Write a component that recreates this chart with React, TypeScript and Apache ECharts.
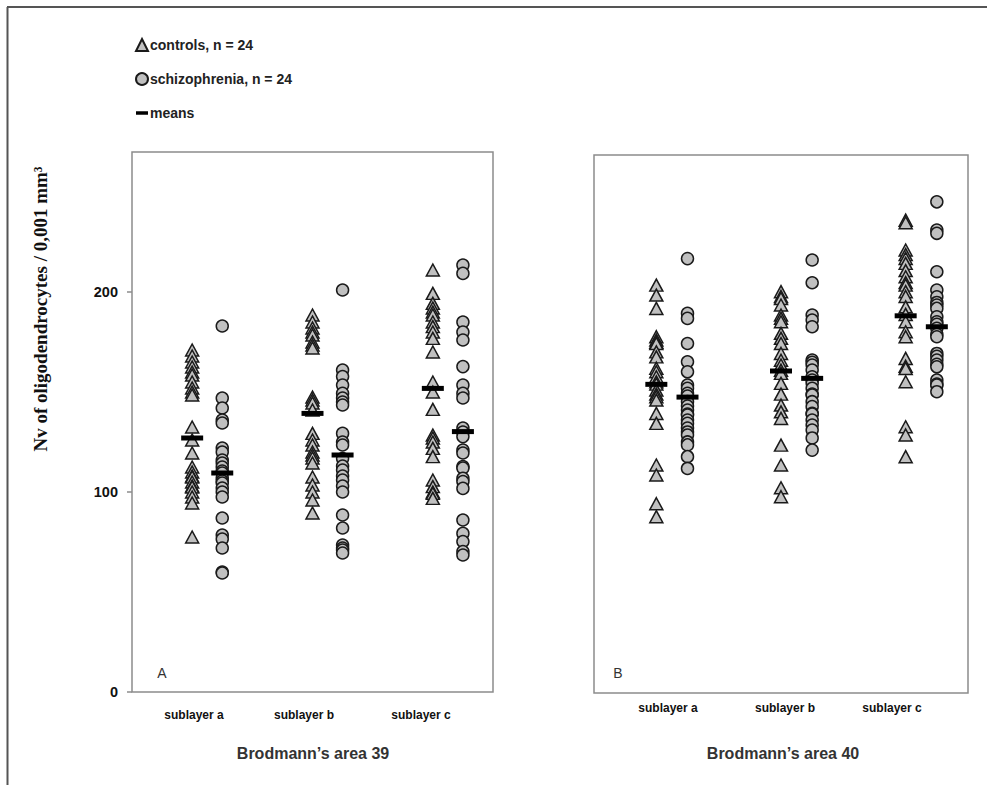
import React, { useEffect, useRef } from "react";
import * as echarts from "echarts";

// ---------- data ----------
const categories = ["sublayer a", "sublayer b", "sublayer c"];
const yTicks = [0, 100, 200];

// Brodmann's area 39 (panel A)
const a39ControlsA = [171, 168, 165, 162.5, 160, 158.5, 155, 152, 150, 148.5, 132.5, 126, 119.5, 112.5, 110, 108, 107.5, 105, 103, 102.5, 100, 97.5, 94.5, 77.5];
const a39ControlsB = [188.5, 185, 182, 180, 178.5, 175, 173.5, 172, 147.5, 146, 144.5, 141, 129.3, 126, 123.5, 120, 118.5, 117, 114.5, 107.5, 103.5, 100, 96, 89.5];
const a39ControlsC = [211, 199.3, 194.3, 192, 190, 188.5, 185, 182.7, 180, 176.8, 170, 155, 150, 141.3, 128.5, 127, 125, 121.8, 117.7, 106, 102.7, 100, 99.3, 96.8];
const a39SchizoA = [183, 147, 142, 136, 134.5, 122, 120, 116, 114.5, 112.5, 110.5, 109.5, 107, 105.5, 104.5, 102, 100, 97.5, 87, 78.5, 76.5, 72, 60, 59.5];
const a39SchizoB = [201, 161, 157.7, 153.5, 149.3, 147, 145, 143.5, 129.3, 125, 123.5, 116.7, 113, 111, 108, 106, 103, 100, 88.5, 82, 73.5, 72, 71, 69.5];
const a39SchizoC = [213.5, 209.3, 185, 180, 176, 162.7, 153.5, 149.3, 147, 132, 130, 127.7, 121, 119.5, 112.7, 112, 106.8, 105.2, 101.8, 86, 79.3, 75.2, 70.2, 68.5];
const a39MeansControls = [127, 139.3, 151.8];
const a39MeansSchizo = [109.5, 118.5, 130.2];

// Brodmann's area 40 (panel B)
const a40ControlsA = [204.7, 199.7, 193, 178.8, 177.1, 176, 175.4, 171.2, 168.7, 163, 161.2, 158.7, 156.2, 155, 152, 150, 148.7, 147, 140.3, 135.3, 114.4, 109.4, 95, 88.5];
const a40ControlsB = [201.4, 199, 198, 194.7, 189.7, 188, 186.3, 180.5, 178, 175.4, 170.4, 167, 164.6, 162, 160.4, 155.4, 150, 144.5, 141.1, 137.8, 124.4, 114.4, 103, 98.5];
const a40ControlsC = [237.3, 236, 222.3, 220, 218.1, 215.6, 212, 208.9, 206, 204.7, 201.4, 199, 193.8, 190, 186.3, 181.3, 178.8, 167.9, 164, 162.9, 156.2, 133.6, 129.5, 118.6];
const a40SchizoA = [218, 190.5, 188, 175.4, 166.2, 161.2, 154.5, 152.9, 150.4, 149, 146.2, 144, 142, 140, 139.5, 137, 135.3, 133, 131, 129.5, 126, 124.5, 118.6, 112.7];
const a40SchizoB = [217.3, 205.9, 189.7, 187.2, 183.8, 167.1, 166, 164.6, 162.1, 158.7, 157, 155.4, 152.9, 150, 149.5, 146.2, 143.7, 140.3, 140, 137, 134.5, 132, 128, 121.9];
const a40SchizoC = [246.5, 232.3, 230.7, 211.4, 202.2, 198.8, 196, 194.7, 193, 188.8, 186.3, 185, 183, 180, 178.8, 170.4, 169, 167.1, 165, 163.7, 157, 155, 154.5, 151.2];
const a40MeansControls = [154.9, 161.6, 189.3];
const a40MeansSchizo = [148.5, 157.9, 183.8];

const panelTitles = ["Brodmann\u2019s area 39", "Brodmann\u2019s area 40"];
const panelLetters = ["A", "B"];
const seriesNames = ["controls, n = 24", "schizophrenia, n = 24", "means"];

// ---------- helpers ----------
const CTRL_OFFSET = 0.5;
const SZ_OFFSET = 0.75;

function toPoints(groups: number[][], offset: number) {
  const pts: number[][] = [];
  groups.forEach((vals, ci) => vals.forEach((v) => pts.push([ci + offset, v])));
  return pts;
}
function meanPoints(ctrl: number[], sz: number[]) {
  const pts: number[][] = [];
  ctrl.forEach((v, ci) => pts.push([ci + CTRL_OFFSET, v]));
  sz.forEach((v, ci) => pts.push([ci + SZ_OFFSET, v]));
  return pts;
}

const SANS = '"Liberation Sans", Arial, sans-serif';
const markerFill = "#c0c0c0";
const markerBorder = "#1a1a1a";

export default function App() {
  const ref = useRef<HTMLDivElement>(null);

  useEffect(() => {
    if (!ref.current) return;
    const chart = echarts.init(ref.current, undefined, { renderer: "svg" });

    const panels = [
      { ctrl: [a39ControlsA, a39ControlsB, a39ControlsC], sz: [a39SchizoA, a39SchizoB, a39SchizoC], mc: a39MeansControls, ms: a39MeansSchizo },
      { ctrl: [a40ControlsA, a40ControlsB, a40ControlsC], sz: [a40SchizoA, a40SchizoB, a40SchizoC], mc: a40MeansControls, ms: a40MeansSchizo },
    ];

    const series: any[] = [];
    panels.forEach((p, i) => {
      series.push({
        type: "scatter",
        name: seriesNames[0],
        xAxisIndex: i,
        yAxisIndex: i,
        symbol: "triangle",
        symbolSize: [13, 12],
        itemStyle: { color: markerFill, borderColor: markerBorder, borderWidth: 1.5, opacity: 1 },
        data: toPoints(p.ctrl, CTRL_OFFSET),
        z: 2,
      });
      series.push({
        type: "scatter",
        name: seriesNames[1],
        xAxisIndex: i,
        yAxisIndex: i,
        symbol: "circle",
        symbolSize: 12,
        itemStyle: { color: markerFill, borderColor: markerBorder, borderWidth: 1.5, opacity: 1 },
        data: toPoints(p.sz, SZ_OFFSET),
        z: 2,
      });
      series.push({
        type: "scatter",
        name: seriesNames[2],
        xAxisIndex: i,
        yAxisIndex: i,
        symbol: "rect",
        symbolSize: [22, 5],
        itemStyle: { color: "#000", borderWidth: 0, opacity: 1 },
        data: meanPoints(p.mc, p.ms),
        z: 3,
      });
    });

    const catLabelPos = [
      [[194, 715], [304, 715], [421, 715]],
      [[668, 708], [785, 708], [892, 708]],
    ];

    const graphic: any[] = [
      { type: "line", shape: { x1: 7.5, y1: 7, x2: 7.5, y2: 785 }, style: { stroke: "#555", lineWidth: 2 } },
      { type: "line", shape: { x1: 7, y1: 7, x2: 987, y2: 7 }, style: { stroke: "#555", lineWidth: 2 } },
      {
        type: "text",
        x: 40,
        y: 309,
        rotation: Math.PI / 2,
        style: {
          text: "Nv of oligodendrocytes / 0,001 mm\u00B3",
          font: 'bold 19px "Liberation Serif", "Times New Roman", serif',
          fill: "#111",
          align: "center",
          verticalAlign: "middle",
        },
      },
    ];
    catLabelPos.forEach((row) =>
      row.forEach(([x, y], ci) =>
        graphic.push({
          type: "text",
          x,
          y,
          style: { text: categories[ci], font: `bold 12px ${SANS}`, fill: "#111", align: "center", verticalAlign: "middle" },
        })
      )
    );
    [[313, 753], [783, 753]].forEach(([x, y], pi) =>
      graphic.push({
        type: "text",
        x,
        y,
        style: { text: panelTitles[pi], font: `bold 16px ${SANS}`, fill: "#333", align: "center", verticalAlign: "middle" },
      })
    );
    [[162, 673], [618, 673]].forEach(([x, y], pi) =>
      graphic.push({
        type: "text",
        x,
        y,
        style: { text: panelLetters[pi], font: `14px ${SANS}`, fill: "#333", align: "center", verticalAlign: "middle" },
      })
    );

    const yBase = {
      type: "value",
      min: 0,
      max: 270,
      interval: 100,
      splitLine: { show: false },
      axisLine: { show: false },
    };

    chart.setOption({
      animation: false,
      backgroundColor: "#fff",
      legend: {
        orient: "vertical",
        left: 130,
        top: 33,
        itemGap: 20,
        itemWidth: 12,
        itemHeight: 12,
        selectedMode: false,
        textStyle: { fontFamily: SANS, fontWeight: "bold", fontSize: 14, color: "#222", padding: [0, 0, 0, -3] },
        data: [
          { name: seriesNames[0], icon: "triangle" },
          { name: seriesNames[1], icon: "circle" },
          { name: seriesNames[2], icon: "path://M0,0h12v3.5h-12z" },
        ],
      },
      grid: [
        { left: 132, top: 152, width: 361, height: 540, show: true, borderColor: "#8c8c8c", borderWidth: 1.5, backgroundColor: "#fff" },
        { left: 594, top: 155, width: 374, height: 538, show: true, borderColor: "#8c8c8c", borderWidth: 1.5, backgroundColor: "#fff" },
      ],
      xAxis: [
        { gridIndex: 0, type: "value", min: 0, max: 3, show: false },
        { gridIndex: 1, type: "value", min: 0, max: 3, show: false },
      ],
      yAxis: [
        {
          ...yBase,
          gridIndex: 0,
          axisTick: { show: true, length: 5, customValues: yTicks, lineStyle: { color: "#8c8c8c", width: 1.5 } },
          axisLabel: { customValues: yTicks, margin: 14, fontFamily: SANS, fontWeight: "bold", fontSize: 14.5, color: "#111" },
        },
        { ...yBase, gridIndex: 1, axisTick: { show: false }, axisLabel: { show: false } },
      ],
      series,
      graphic,
    });

    return () => chart.dispose();
  }, []);

  return <div ref={ref} style={{ position: "fixed", left: 0, top: 0, width: 987, height: 785 }} />;
}
